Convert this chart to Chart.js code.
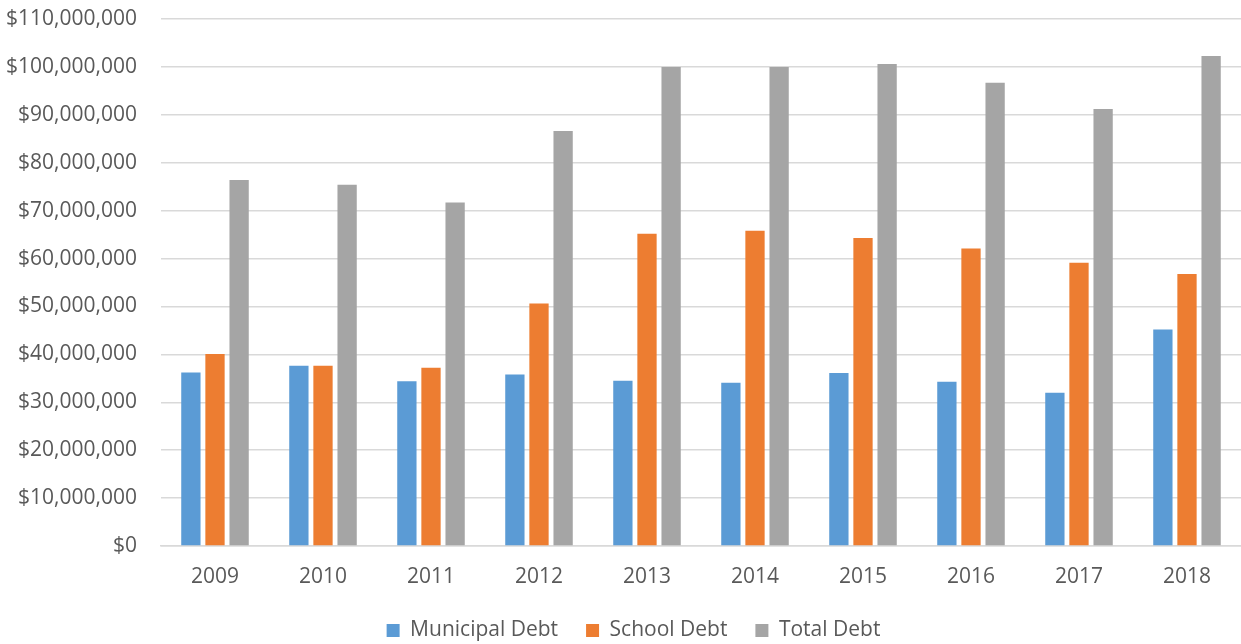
<!DOCTYPE html>
<html lang="en">
<head>
    <meta charset="UTF-8">
    <title>Municipal and School Debt</title>
    <style>
        html, body { margin: 0; padding: 0; background: #ffffff; }
        .chart-box { width: 1241px; height: 644px; }
    </style>
</head>
<body>
    <div class="chart-box">
        <canvas id="graficoDivida" width="1241" height="644"></canvas>
    </div>

    <script src="https://cdn.jsdelivr.net/npm/chart.js"></script>
    <script>
        const anos = ['2009', '2010', '2011', '2012', '2013', '2014', '2015', '2016', '2017', '2018'];
        const dividaMunicipal = [36200000, 37600000, 34400000, 35800000, 34500000, 34100000, 36100000, 34300000, 32000000, 45200000];
        const dividaEscolar = [40100000, 37600000, 37200000, 50600000, 65200000, 65800000, 64300000, 62100000, 59100000, 56800000];
        const dividaTotal = [76400000, 75400000, 71700000, 86600000, 100000000, 100000000, 100600000, 96700000, 91200000, 102300000];

        const corTexto = '#595959';
        const corGrade = '#d9d9d9';
        const fonte = { family: "'Open Sans', sans-serif", size: 21 };

        // altura fixa da legenda e pequeno deslocamento para a direita
        const ajusteLegenda = {
            id: 'ajusteLegenda',
            beforeLayout(chart) {
                const legenda = chart.legend;
                if (!legenda || legenda._ajustada) return;
                const fitOriginal = legenda.fit;
                legenda.fit = function () {
                    fitOriginal.call(this);
                    this.height = 52;
                    if (this.lineWidths && this.lineWidths.length) this.lineWidths[0] -= 26;
                };
                legenda._ajustada = true;
            }
        };

        const ctx = document.getElementById('graficoDivida').getContext('2d');
        const grafico = new Chart(ctx, {
            type: 'bar',
            data: {
                labels: anos,
                datasets: [
                    { label: 'Municipal Debt', data: dividaMunicipal, backgroundColor: '#5b9bd5' },
                    { label: 'School Debt', data: dividaEscolar, backgroundColor: '#ed7d31' },
                    { label: 'Total Debt', data: dividaTotal, backgroundColor: '#a5a5a5' }
                ]
            },
            options: {
                responsive: false,
                animation: false,
                layout: { padding: { top: 19, right: 0, bottom: 0, left: 0 } },
                datasets: {
                    bar: { categoryPercentage: 0.67, barPercentage: 0.8 }
                },
                scales: {
                    x: {
                        grid: { display: false, drawTicks: false },
                        border: { display: true, color: corGrade, width: 1.5 },
                        ticks: { color: corTexto, font: fonte, padding: 18, maxRotation: 0 },
                        afterFit(scale) { scale.height = 46; }
                    },
                    y: {
                        min: 0,
                        max: 110000000,
                        grid: { color: corGrade, lineWidth: 1.5, drawTicks: true, tickLength: 24, tickColor: 'rgba(0,0,0,0)' },
                        border: { display: false },
                        ticks: {
                            stepSize: 10000000,
                            color: corTexto,
                            font: fonte,
                            padding: 0,
                            callback: valor => '$' + valor.toLocaleString('en-US')
                        },
                        afterFit(scale) { scale.width = 161; }
                    }
                },
                plugins: {
                    tooltip: { enabled: false },
                    legend: {
                        position: 'bottom',
                        labels: {
                            boxWidth: 13,
                            boxHeight: 13,
                            padding: 28,
                            color: corTexto,
                            font: fonte
                        }
                    }
                }
            },
            plugins: [ajusteLegenda]
        });
    </script>
</body>
</html>
